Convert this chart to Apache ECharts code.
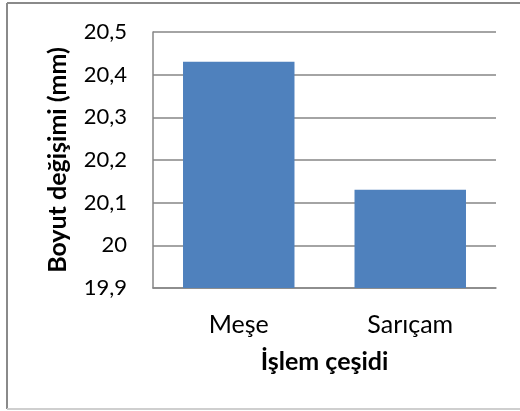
<!DOCTYPE html>
<html>
<head>
<meta charset="utf-8">
<script src="https://cdn.jsdelivr.net/npm/echarts@6/dist/echarts.min.js"></script>
<style>
  html, body { margin: 0; padding: 0; background: #fff; }
  #main { width: 520px; height: 411px; }
</style>
</head>
<body>
<div id="main"></div>
<script>
// veriler
const kategoriler = ['Meşe', 'Sarıçam'];
const boyutDegisimi = [20.43, 20.13];
const eksenAdiX = 'İşlem çeşidi';
const eksenAdiY = 'Boyut değişimi (mm)';

const chart = echarts.init(document.getElementById('main'), null, { renderer: 'canvas' });

const yazi = 'Lato, "Open Sans", sans-serif';

chart.setOption({
  animation: false,
  backgroundColor: '#fff',
  grid: { left: 153, top: 32, right: 24, bottom: 123, containLabel: false },
  // dis cerceve
  graphic: [
    { type: 'line', shape: { x1: 7, y1: 3, x2: 520, y2: 3 }, style: { stroke: '#8a8a8a', lineWidth: 2 } },
    { type: 'line', shape: { x1: 7, y1: 3, x2: 7, y2: 409 }, style: { stroke: '#8a8a8a', lineWidth: 2 } },
    { type: 'line', shape: { x1: 7, y1: 409, x2: 520, y2: 409 }, style: { stroke: '#cfcfcf', lineWidth: 2 } }
  ],
  xAxis: {
    type: 'category',
    data: kategoriler,
    name: eksenAdiX,
    nameLocation: 'middle',
    nameGap: 61,
    nameTextStyle: { fontFamily: yazi, fontSize: 25, fontWeight: 'bold', color: '#000' },
    axisLine: { lineStyle: { color: '#868686', width: 1.5 } },
    axisTick: { show: false },
    axisLabel: { fontFamily: yazi, fontSize: 25, color: '#000', margin: 24 }
  },
  yAxis: {
    type: 'value',
    min: 19.9,
    max: 20.5,
    interval: 0.1,
    name: eksenAdiY,
    nameLocation: 'middle',
    nameGap: 83,
    nameTextStyle: { fontFamily: yazi, fontSize: 25, fontWeight: 'bold', color: '#000' },
    axisLine: { show: true, lineStyle: { color: '#868686', width: 1.5 } },
    axisTick: { show: false },
    splitLine: { lineStyle: { color: '#868686', width: 1.5 } },
    axisLabel: {
      fontFamily: yazi, fontSize: 22, color: '#000', margin: 26,
      formatter: v => String(Math.round(v * 10) / 10).replace('.', ',')
    }
  },
  series: [{
    type: 'bar',
    data: boyutDegisimi,
    barWidth: '65%',
    itemStyle: { color: '#4f81bd' }
  }]
});
</script>
</body>
</html>
